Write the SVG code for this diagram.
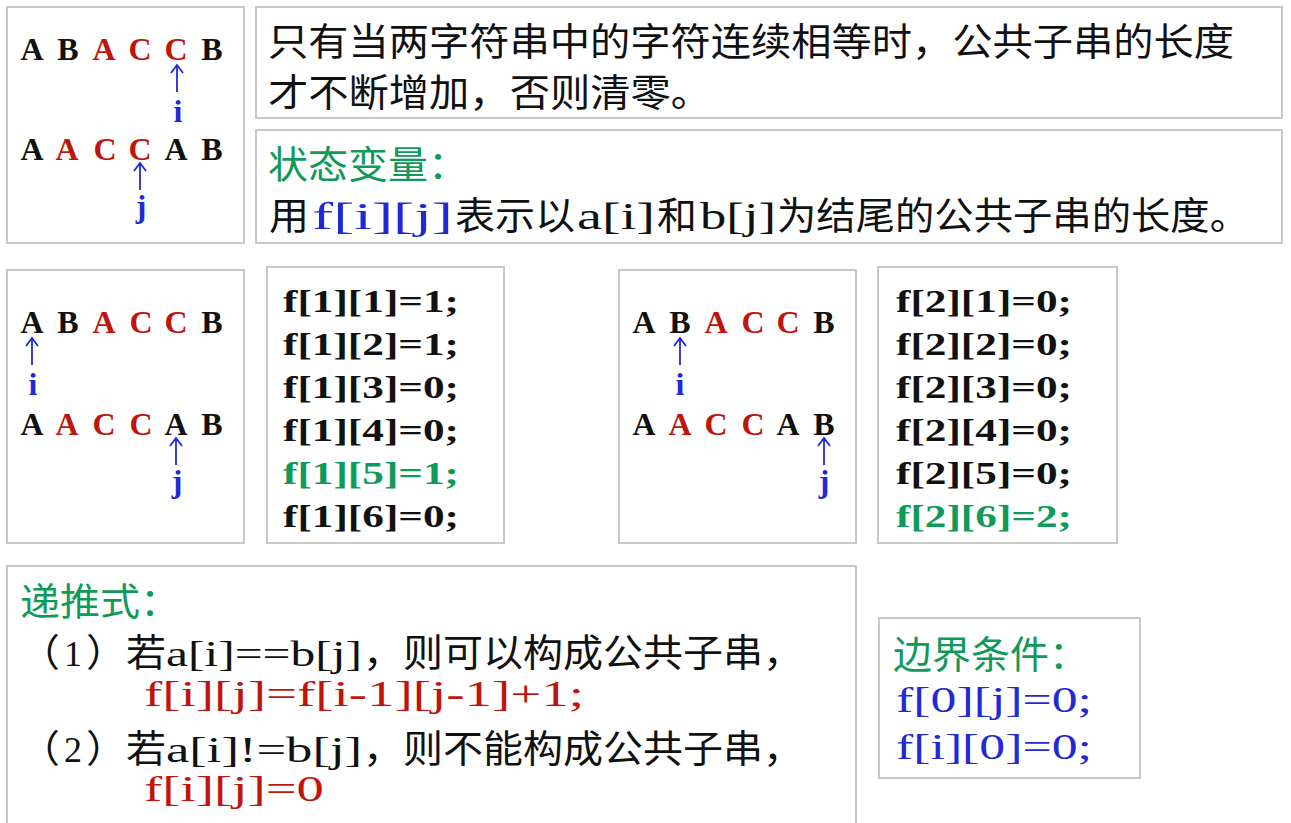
<svg xmlns="http://www.w3.org/2000/svg" xmlns:xlink="http://www.w3.org/1999/xlink" width="1291" height="823" viewBox="0 0 1291 823">
<style>
.box{fill:#fff;stroke:#c8c8c8;stroke-width:2}
.cjk{font-family:"Noto Sans CJK SC",sans-serif;font-size:38px}
.ser{font-family:"Liberation Serif",serif}
.lt{font-family:"Liberation Serif",serif;font-size:32px;font-weight:bold;text-anchor:middle}
.fl{font-family:"Liberation Serif",serif;font-size:31px;font-weight:bold}
.k{fill:#111}
.r{fill:#c0150c}
.g{fill:#0f9a5a}
.b{fill:#1f2ad6}
.arr{stroke:#1f2ad6;stroke-width:1.8;fill:none}
</style>
<defs>
<path id="up" class="arr" d="M0 0 V-27 M-6 -19 L0 -27 L6 -19"/>
</defs>
<rect width="1291" height="823" fill="#fff"/>

<g id="box-example1">
<rect class="box" x="7" y="7" width="237" height="236"/>
<text class="lt k" x="32" y="60">A</text><text class="lt k" x="68" y="60">B</text><text class="lt r" x="104" y="60">A</text><text class="lt r" x="140" y="60">C</text><text class="lt r" x="176" y="60">C</text><text class="lt k" x="212" y="60">B</text>
<use xlink:href="#up" x="177" y="92"/>
<text class="lt b" x="178" y="122">i</text>
<text class="lt k" x="32" y="160">A</text><text class="lt r" x="67" y="160">A</text><text class="lt r" x="105" y="160">C</text><text class="lt r" x="140" y="160">C</text><text class="lt k" x="176" y="160">A</text><text class="lt k" x="212" y="160">B</text>
<use xlink:href="#up" x="140" y="190"/>
<text class="lt b" x="141" y="217">j</text>
</g>

<g id="box-note">
<rect class="box" x="256" y="7" width="1026" height="111"/>
<text class="cjk k" x="268" y="55" textLength="966" lengthAdjust="spacingAndGlyphs">只有当两字符串中的字符连续相等时，公共子串的长度</text>
<text class="cjk k" x="268" y="106" textLength="443" lengthAdjust="spacingAndGlyphs">才不断增加，否则清零。</text>
</g>

<g id="box-state">
<rect class="box" x="256" y="130" width="1026" height="113"/>
<text class="cjk g" x="268" y="178" font-size="37" textLength="200" lengthAdjust="spacingAndGlyphs">状态变量：</text>
<text class="cjk k" x="269" y="229" textLength="40" lengthAdjust="spacingAndGlyphs">用</text>
<text class="ser b" x="312" y="229" font-size="37" textLength="141" lengthAdjust="spacingAndGlyphs">f[i][j]</text>
<text class="cjk k" x="455" y="229" textLength="120" lengthAdjust="spacingAndGlyphs">表示以</text>
<text class="ser k" x="577" y="229" font-size="37" textLength="78" lengthAdjust="spacingAndGlyphs">a[i]</text>
<text class="cjk k" x="657" y="229" textLength="40" lengthAdjust="spacingAndGlyphs">和</text>
<text class="ser k" x="700" y="229" font-size="37" textLength="76" lengthAdjust="spacingAndGlyphs">b[j]</text>
<text class="cjk k" x="777" y="229" textLength="472" lengthAdjust="spacingAndGlyphs">为结尾的公共子串的长度。</text>
</g>

<g id="box-example2">
<rect class="box" x="7" y="270" width="237" height="273"/>
<text class="lt k" x="32" y="333">A</text><text class="lt k" x="68" y="333">B</text><text class="lt r" x="104" y="333">A</text><text class="lt r" x="141" y="333">C</text><text class="lt r" x="176" y="333">C</text><text class="lt k" x="212" y="333">B</text>
<use xlink:href="#up" x="32" y="365"/>
<text class="lt b" x="33" y="395">i</text>
<text class="lt k" x="32" y="435">A</text><text class="lt r" x="67" y="435">A</text><text class="lt r" x="104" y="435">C</text><text class="lt r" x="141" y="435">C</text><text class="lt k" x="176" y="435">A</text><text class="lt k" x="212" y="435">B</text>
<use xlink:href="#up" x="176" y="465"/>
<text class="lt b" x="177" y="492">j</text>
</g>

<g id="box-values1">
<rect class="box" x="267" y="267" width="237" height="276"/>
<text class="fl k" x="283" y="312" textLength="176" lengthAdjust="spacingAndGlyphs">f[1][1]=1;</text>
<text class="fl k" x="283" y="355" textLength="176" lengthAdjust="spacingAndGlyphs">f[1][2]=1;</text>
<text class="fl k" x="283" y="398" textLength="176" lengthAdjust="spacingAndGlyphs">f[1][3]=0;</text>
<text class="fl k" x="283" y="441" textLength="176" lengthAdjust="spacingAndGlyphs">f[1][4]=0;</text>
<text class="fl g" x="283" y="484" textLength="176" lengthAdjust="spacingAndGlyphs">f[1][5]=1;</text>
<text class="fl k" x="283" y="527" textLength="176" lengthAdjust="spacingAndGlyphs">f[1][6]=0;</text>
</g>

<g id="box-example3">
<rect class="box" x="619" y="270" width="237" height="273"/>
<text class="lt k" x="644" y="333">A</text><text class="lt k" x="680" y="333">B</text><text class="lt r" x="716" y="333">A</text><text class="lt r" x="753" y="333">C</text><text class="lt r" x="788" y="333">C</text><text class="lt k" x="824" y="333">B</text>
<use xlink:href="#up" x="680" y="365"/>
<text class="lt b" x="680" y="395">i</text>
<text class="lt k" x="644" y="435">A</text><text class="lt r" x="680" y="435">A</text><text class="lt r" x="716" y="435">C</text><text class="lt r" x="753" y="435">C</text><text class="lt k" x="788" y="435">A</text><text class="lt k" x="824" y="435">B</text>
<use xlink:href="#up" x="824" y="465"/>
<text class="lt b" x="824" y="492">j</text>
</g>

<g id="box-values2">
<rect class="box" x="878" y="267" width="239" height="276"/>
<text class="fl k" x="896" y="312" textLength="176" lengthAdjust="spacingAndGlyphs">f[2][1]=0;</text>
<text class="fl k" x="896" y="355" textLength="176" lengthAdjust="spacingAndGlyphs">f[2][2]=0;</text>
<text class="fl k" x="896" y="398" textLength="176" lengthAdjust="spacingAndGlyphs">f[2][3]=0;</text>
<text class="fl k" x="896" y="441" textLength="176" lengthAdjust="spacingAndGlyphs">f[2][4]=0;</text>
<text class="fl k" x="896" y="484" textLength="176" lengthAdjust="spacingAndGlyphs">f[2][5]=0;</text>
<text class="fl g" x="896" y="527" textLength="176" lengthAdjust="spacingAndGlyphs">f[2][6]=2;</text>
</g>

<g id="box-recurrence">
<rect class="box" x="7" y="566" width="849" height="270"/>
<text class="cjk g" x="20" y="615" textLength="160" lengthAdjust="spacingAndGlyphs">递推式：</text>
<text class="cjk k" x="20" y="666" textLength="40" lengthAdjust="spacingAndGlyphs">（</text>
<text class="ser k" x="64" y="666" font-size="36">1</text>
<text class="cjk k" x="86" y="666" textLength="80" lengthAdjust="spacingAndGlyphs">）若</text>
<text class="ser k" x="166" y="666" font-size="36" textLength="196" lengthAdjust="spacingAndGlyphs">a[i]==b[j]</text>
<text class="cjk k" x="363" y="666" textLength="440" lengthAdjust="spacingAndGlyphs">，则可以构成公共子串，</text>
<text class="ser r" x="144" y="706" font-size="35" textLength="440" lengthAdjust="spacingAndGlyphs">f[i][j]=f[i-1][j-1]+1;</text>
<text class="cjk k" x="20" y="762" textLength="40" lengthAdjust="spacingAndGlyphs">（</text>
<text class="ser k" x="64" y="762" font-size="36">2</text>
<text class="cjk k" x="86" y="762" textLength="80" lengthAdjust="spacingAndGlyphs">）若</text>
<text class="ser k" x="166" y="762" font-size="36" textLength="196" lengthAdjust="spacingAndGlyphs">a[i]!=b[j]</text>
<text class="cjk k" x="363" y="762" textLength="440" lengthAdjust="spacingAndGlyphs">，则不能构成公共子串，</text>
<text class="ser r" x="144" y="801" font-size="35" textLength="180" lengthAdjust="spacingAndGlyphs">f[i][j]=0</text>
</g>

<g id="box-boundary">
<rect class="box" x="879" y="618" width="261" height="160"/>
<text class="cjk g" x="893" y="668" textLength="195" lengthAdjust="spacingAndGlyphs">边界条件：</text>
<text class="ser b" x="896" y="712" font-size="36" textLength="196" lengthAdjust="spacingAndGlyphs">f[0][j]=0;</text>
<text class="ser b" x="896" y="759" font-size="36" textLength="196" lengthAdjust="spacingAndGlyphs">f[i][0]=0;</text>
</g>

<g id="connectors"></g>
</svg>
